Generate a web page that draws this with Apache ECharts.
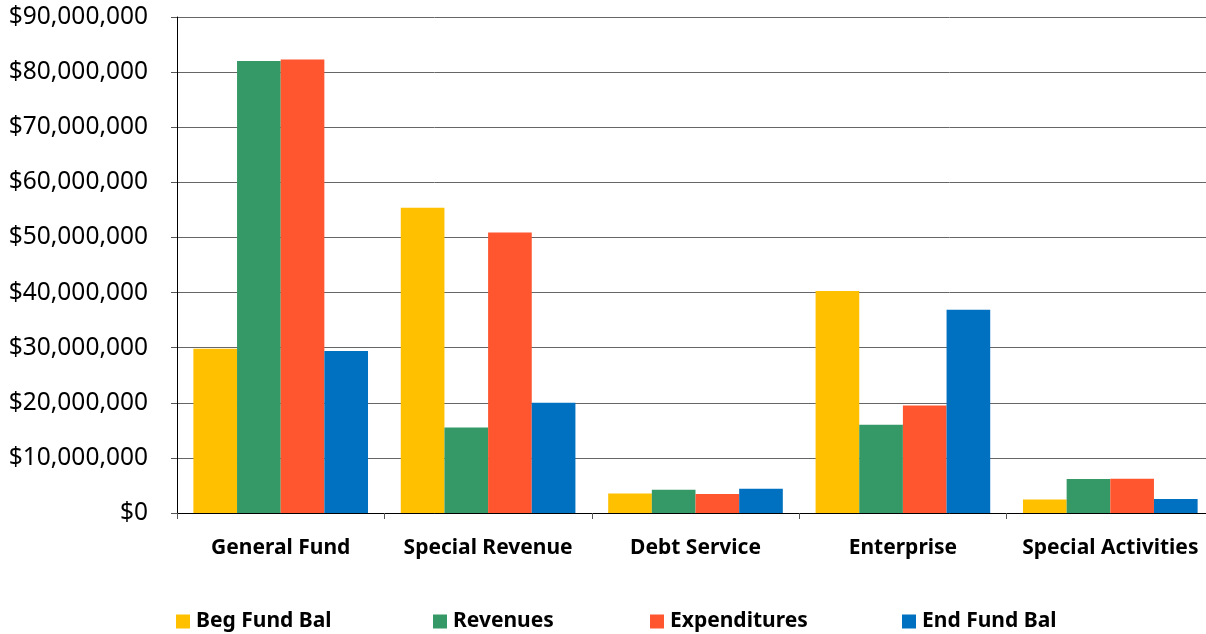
<!DOCTYPE html>
<html>
<head>
<meta charset="utf-8">
<script src="https://cdn.jsdelivr.net/npm/echarts@6/dist/echarts.min.js"></script>
<style>
  html, body { margin: 0; padding: 0; background: #fff; }
  #chart { width: 1206px; height: 634px; }
</style>
</head>
<body>
<div id="chart"></div>
<script>
// Fund categories along the x axis
const categories = ['General Fund', 'Special Revenue', 'Debt Service', 'Enterprise', 'Special Activities'];

// Dollar amounts per fund
const begFundBal   = [29800000, 55400000, 3560000, 40300000, 2470000];
const revenues     = [82000000, 15500000, 4230000, 16000000, 6170000];
const expenditures = [82300000, 50900000, 3450000, 19500000, 6220000];
const endFundBal   = [29400000, 20000000, 4410000, 36900000, 2540000];

// Value axis ticks
const yTicks = [0, 10000000, 20000000, 30000000, 40000000, 50000000, 60000000, 70000000, 80000000, 90000000];

const seriesNames = ['Beg Fund Bal', 'Revenues', 'Expenditures', 'End Fund Bal'];
const seriesData = [begFundBal, revenues, expenditures, endFundBal];
const colors = ['#FFC000', '#349966', '#FF5630', '#0070C0'];
const legendLeft = [176, 433, 650, 902];

const FONT = '"Noto Sans", "DejaVu Sans", sans-serif';

function money(v) {
  return '$' + Math.round(v).toString().replace(/\B(?=(\d{3})+(?!\d))/g, ',');
}

const chart = echarts.init(document.getElementById('chart'), null, { renderer: 'canvas' });

chart.setOption({
  animation: false,
  backgroundColor: '#ffffff',
  color: colors,
  textStyle: { fontFamily: FONT },
  // plot runs a little past the right edge of the canvas
  grid: { left: 177, width: 1037, top: 17, bottom: 121, containLabel: false, outerBoundsMode: 'none' },
  legend: seriesNames.map((name, i) => ({
    data: [name],
    left: legendLeft[i],
    top: 611,
    padding: 0,
    itemWidth: 14,
    itemHeight: 14,
    itemGap: 0,
    icon: 'rect',
    textStyle: { fontFamily: FONT, fontSize: 21, fontWeight: 'bold', color: '#000', padding: [0, 0, 0, 1] }
  })),
  xAxis: {
    type: 'category',
    data: categories,
    axisLine: { lineStyle: { color: '#000', width: 1 } },
    axisTick: { show: true, interval: 0, alignWithLabel: false, length: 6, lineStyle: { color: '#555' } },
    axisLabel: { interval: 0, fontFamily: FONT, fontSize: 21, fontWeight: 'bold', color: '#000', margin: 25 }
  },
  yAxis: {
    type: 'value',
    min: yTicks[0],
    max: yTicks[yTicks.length - 1],
    interval: yTicks[1] - yTicks[0],
    axisLine: { show: true, lineStyle: { color: '#000', width: 1 } },
    axisTick: { show: true, length: 6, lineStyle: { color: '#555' } },
    splitLine: { show: true, lineStyle: { color: '#666', width: 1 } },
    axisLabel: { fontFamily: FONT, fontSize: 24.5, color: '#000', margin: 29, formatter: money }
  },
  series: seriesNames.map((name, i) => ({
    name: name,
    type: 'bar',
    data: seriesData[i],
    barGap: '0%',
    barCategoryGap: '15.8%',
    itemStyle: { color: colors[i] }
  }))
});
</script>
</body>
</html>
